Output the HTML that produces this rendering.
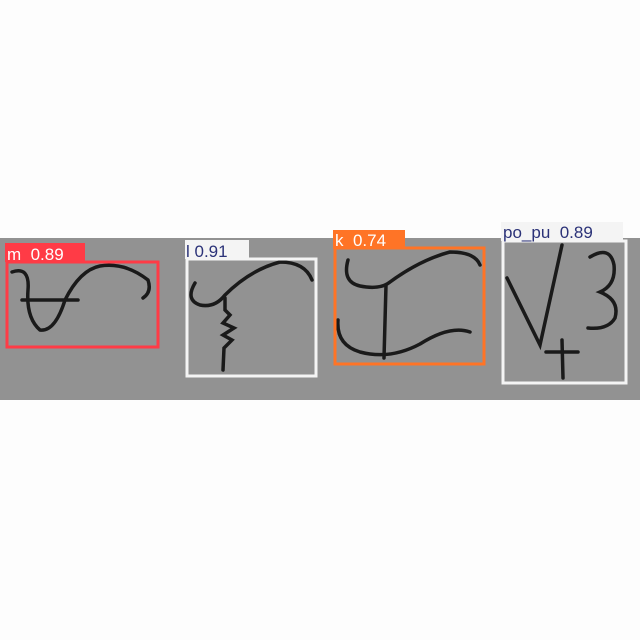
<!DOCTYPE html>
<html><head><meta charset="utf-8"><style>
html,body{margin:0;padding:0;background:#fdfdfd}
svg{display:block}
text{font-family:"Liberation Sans",sans-serif;font-size:17px;white-space:pre}
</style></head><body>
<svg width="640" height="640" viewBox="0 0 640 640">
<rect x="0" y="0" width="640" height="640" fill="#fdfdfd"/>
<rect x="0" y="238" width="640" height="162" fill="#929292"/>
<g fill="none" stroke="#1a1a1a" stroke-width="3.5" stroke-linecap="round">
<path d="M12 272 Q30 266 28 290 Q26 318 40 330 Q55 332 65 300 Q80 270 100 266 Q125 262 148 280 Q152 292 143 298"/>
<path d="M22 300 L78 300"/>
<path d="M195 283 Q185 300 200 305 Q215 308 225 295 Q250 270 280 262 Q305 262 312 280"/>
<path d="M225 298 L225 310 L230 315 L223 323 L234 328 L223 335 L232 340 L224 348 L223 370"/>
<path d="M348 260 Q342 282 360 286 Q380 290 390 282 Q420 260 450 252 Q475 252 480 265"/>
<path d="M386 285 L384 358"/>
<path d="M338 320 Q336 345 360 352 Q390 360 420 344 Q450 325 470 332"/>
<path d="M507 278 L540 345 L562 245"/>
<path d="M546 352 L578 352 M562 340 L563 378"/>
<path d="M590 257 Q610 245 614 265 Q616 285 600 292 Q620 300 615 318 Q608 330 588 328"/>
</g>
<g>
<rect x="7" y="262" width="151" height="85" fill="none" stroke="#ff3b46" stroke-width="3"/>
<rect x="5" y="243" width="80" height="19" fill="#ff3b46"/>
<text x="7" y="260" fill="#fff" xml:space="preserve">m  0.89</text>
</g>
<g>
<rect x="187" y="259" width="129" height="117" fill="none" stroke="#f4f4f4" stroke-width="3"/>
<rect x="185" y="240" width="64" height="19" fill="#f4f4f4"/>
<text x="186" y="257" fill="#2b3278" xml:space="preserve">l 0.91</text>
</g>
<g>
<rect x="335" y="248" width="149" height="116" fill="none" stroke="#ff7426" stroke-width="3"/>
<rect x="333" y="230" width="72" height="19" fill="#ff7426"/>
<text x="335" y="246" fill="#fff" xml:space="preserve">k  0.74</text>
</g>
<g>
<rect x="503" y="241" width="123" height="142" fill="none" stroke="#f4f4f4" stroke-width="3"/>
<rect x="501" y="222" width="122" height="19" fill="#f4f4f4"/>
<text x="503" y="238" fill="#2b3278" xml:space="preserve">po_pu  0.89</text>
</g>
</svg>
</body></html>
